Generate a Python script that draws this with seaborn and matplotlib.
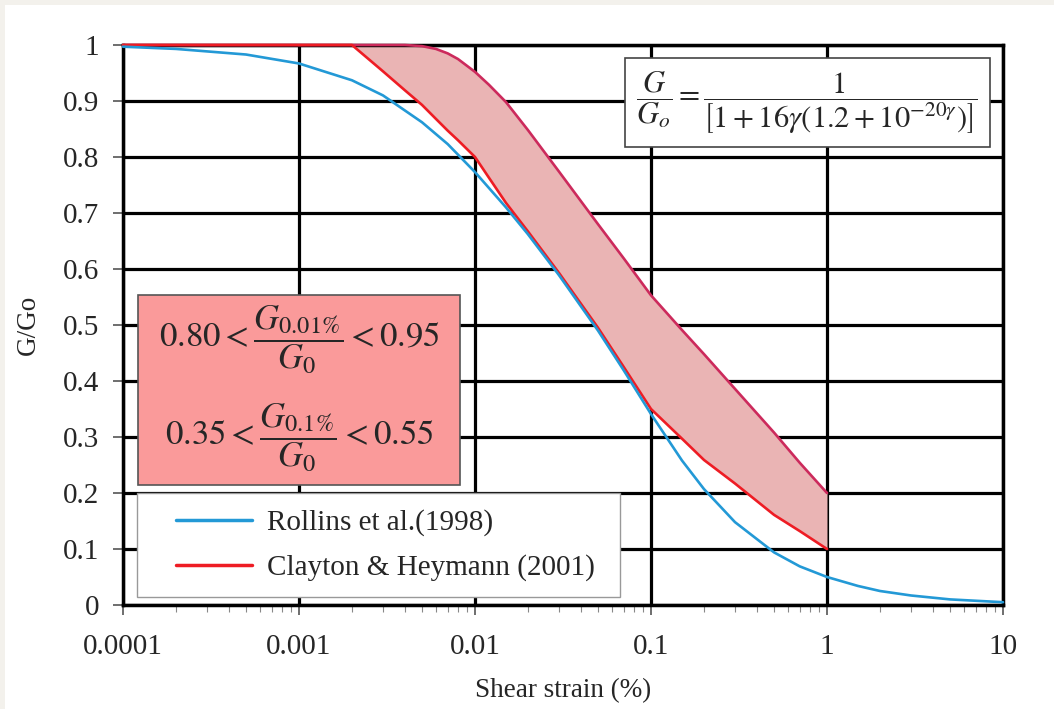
import numpy as np
import pandas as pd
import matplotlib
matplotlib.use("Agg")
import matplotlib.pyplot as plt
from matplotlib.patches import Rectangle
from matplotlib.lines import Line2D
from matplotlib.legend_handler import HandlerLine2D
from matplotlib.ticker import FixedLocator, NullFormatter
import seaborn as sns

# Rollins et al. (1998) curve
rollins_strain = [0.0001, 0.0002, 0.0005, 0.001, 0.002, 0.003, 0.005, 0.007, 0.01, 0.015,
                  0.02, 0.03, 0.05, 0.07, 0.1, 0.15, 0.2, 0.3, 0.5, 0.7, 1.0, 1.5, 2.0, 3.0, 5.0, 10.0]
rollins_ratio = [0.997, 0.993, 0.983, 0.967, 0.937, 0.910, 0.862, 0.823, 0.773, 0.710,
                 0.662, 0.589, 0.490, 0.419, 0.341, 0.258, 0.207, 0.148, 0.094, 0.069, 0.050,
                 0.034, 0.025, 0.017, 0.010, 0.005]

# Clayton & Heymann (2001) band: lower (red) and upper (crimson) bounds
band_strain = [0.0001, 0.002, 0.003, 0.004, 0.005, 0.006, 0.007, 0.008, 0.01, 0.012, 0.015,
               0.02, 0.03, 0.05, 0.07, 0.1, 0.15, 0.2, 0.3, 0.5, 0.7, 1.0]
clayton_lower = [1.0, 1.0, 0.953, 0.919, 0.893, 0.868, 0.847, 0.830, 0.800, 0.763, 0.718,
                 0.667, 0.593, 0.495, 0.425, 0.350, 0.297, 0.259, 0.217, 0.161, 0.132, 0.100]
clayton_upper = [1.0, 1.0, 1.0, 1.0, 0.998, 0.993, 0.985, 0.975, 0.952, 0.929, 0.898,
                 0.848, 0.774, 0.680, 0.619, 0.553, 0.491, 0.448, 0.386, 0.308, 0.254, 0.200]

x_ticks = [0.0001, 0.001, 0.01, 0.1, 1, 10]
x_ticklabels = ["0.0001", "0.001", "0.01", "0.1", "1", "10"]
y_ticks = [0, 0.1, 0.2, 0.3, 0.4, 0.5, 0.6, 0.7, 0.8, 0.9, 1]
y_ticklabels = ["0", "0.1", "0.2", "0.3", "0.4", "0.5", "0.6", "0.7", "0.8", "0.9", "1"]

BLUE    = "#2399d6"
RED     = "#ee1c24"
CRIMSON = "#cc2a5c"
BAND    = "#eab4b4"
BOXPINK = "#fa9a9a"

sns.set_theme(style="white")
plt.rcParams["font.family"] = ["Liberation Serif", "DejaVu Serif"]
plt.rcParams["mathtext.fontset"] = "stix"

df_roll = pd.DataFrame({"strain": rollins_strain, "ratio": rollins_ratio})
df_band = pd.DataFrame({"strain": band_strain, "lower": clayton_lower, "upper": clayton_upper})

fig = plt.figure(figsize=(10.54, 7.09), dpi=100, facecolor="#f3f1ec")
fig.add_artist(Rectangle((5/1054, 0), 1, 704/709, transform=fig.transFigure,
                         facecolor="white", edgecolor="none", zorder=0))
ax = fig.add_axes([123/1054, 104/709, 880/1054, 560/709])
ax.set_facecolor("white")

ax.fill_between(df_band["strain"][1:], df_band["lower"][1:], df_band["upper"][1:],
                color=BAND, lw=0, zorder=2)
sns.lineplot(data=df_band, x="strain", y="upper", ax=ax, color=CRIMSON, lw=1.9, zorder=4)
sns.lineplot(data=df_roll, x="strain", y="ratio", ax=ax, color=BLUE, lw=1.9, zorder=5)
sns.lineplot(data=df_band, x="strain", y="lower", ax=ax, color=RED, lw=1.9, zorder=4)
for ln in ax.get_lines():
    ln.set_clip_on(False)

ax.set_xscale("log")
ax.set_xlim(0.0001, 10)
ax.set_ylim(0, 1)
ax.set_xticks(x_ticks)
ax.set_xticklabels(x_ticklabels)
ax.xaxis.set_minor_locator(FixedLocator([m * 10.0**e for e in range(-4, 1) for m in range(2, 10)]))
ax.xaxis.set_minor_formatter(NullFormatter())
ax.set_yticks(y_ticks)
ax.set_yticklabels(y_ticklabels)
ax.tick_params(axis="both", which="major", direction="out", length=7, width=1.2,
               color="#555555", labelsize=21, bottom=True, left=True)
ax.tick_params(axis="x", which="major", pad=14)
ax.tick_params(axis="y", which="major", pad=10)
ax.tick_params(axis="x", which="minor", direction="out", length=5, width=0.8,
               color="#888888", bottom=True)

ax.grid(True, which="major", color="black", lw=2.3)
ax.set_axisbelow(True)
for s in ax.spines.values():
    s.set_color("black")
    s.set_linewidth(2.5)

ax.set_xlabel("Shear strain (%)", fontsize=19.5, labelpad=13)
ax.set_ylabel("G/Go", fontsize=19.5, labelpad=16)

# equation box (top right)
ax.add_patch(Rectangle((0.570, 0.818), 0.415, 0.159, transform=ax.transAxes,
                       facecolor="white", edgecolor="#444444", lw=1.2, zorder=6))
ax.text(0.777, 0.897,
        r"$\dfrac{G}{G_o}=\dfrac{1}{\left[1+16\gamma\left(1.2+10^{-20\gamma}\right)\right]}$",
        transform=ax.transAxes, ha="center", va="center", fontsize=22, zorder=7)

# pink box with the inequalities
ax.add_patch(Rectangle((0.017, 0.214), 0.366, 0.340, transform=ax.transAxes,
                       facecolor=BOXPINK, edgecolor="#555555", lw=1.2, zorder=6))
ax.text(0.200, 0.474, r"$0.80<\dfrac{G_{0.01\%}}{G_0}<0.95$", transform=ax.transAxes,
        ha="center", va="center", fontsize=25, zorder=7)
ax.text(0.200, 0.298, r"$0.35<\dfrac{G_{0.1\%}}{G_0}<0.55$", transform=ax.transAxes,
        ha="center", va="center", fontsize=25, zorder=7)

handles = [Line2D([], [], color=BLUE, lw=2.5), Line2D([], [], color=RED, lw=2.5)]
leg = ax.legend(handles, ["Rollins et al.(1998)", "Clayton & Heymann (2001)"],
                loc="lower left", bbox_to_anchor=(0.016, 0.014, 0.549, 0.184), mode="expand",
                borderaxespad=0, fontsize=21, handlelength=3.4, handletextpad=0.5,
                labelspacing=0.62, borderpad=0.55, frameon=True, fancybox=False,
                framealpha=1, edgecolor="#999999",
                handler_map={Line2D: HandlerLine2D(xpad=0.8)})
leg.get_frame().set_linewidth(1.0)
leg.set_zorder(8)

fig.savefig("out.png", dpi=100, facecolor=fig.get_facecolor())
